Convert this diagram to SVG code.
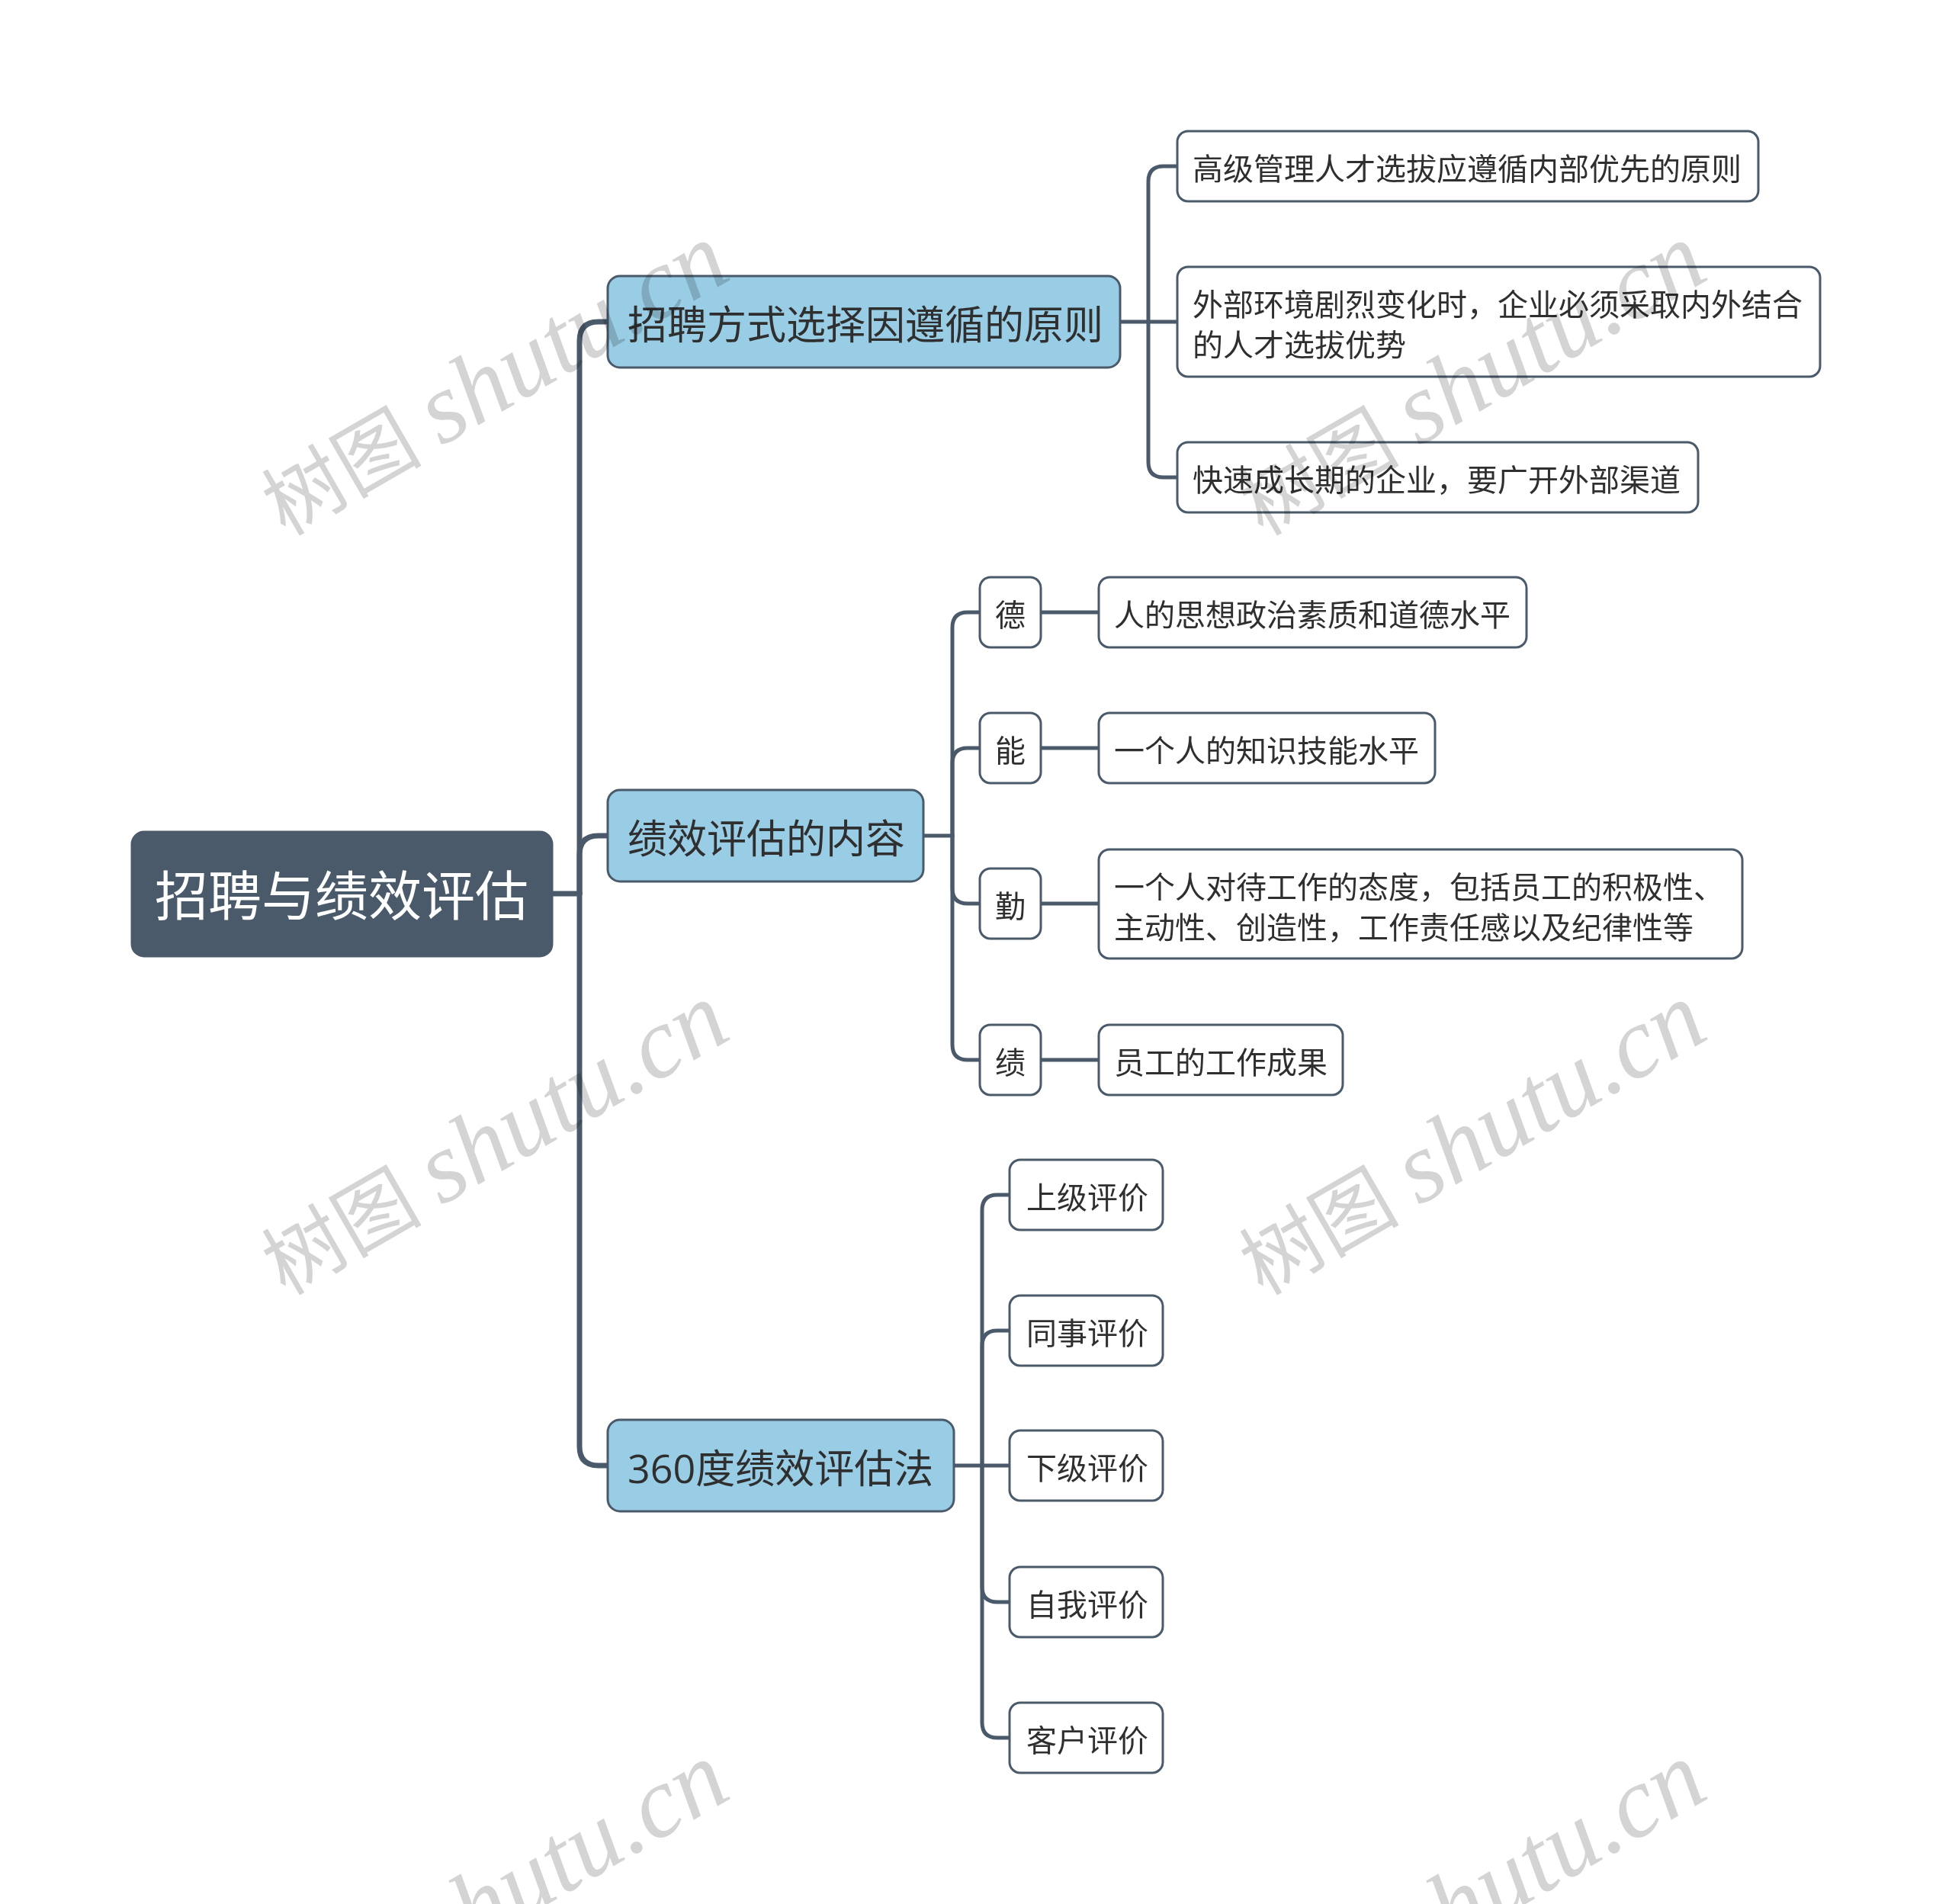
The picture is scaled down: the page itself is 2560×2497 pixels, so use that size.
<svg xmlns="http://www.w3.org/2000/svg" width="2560" height="2497" viewBox="0 0 2560 2497">
<style>
.wm{font-family:"Liberation Serif","Noto Sans CJK SC",serif;font-size:105px;fill:#d4d4d4;mix-blend-mode:multiply;dominant-baseline:alphabetic}
.wm .lat{font-style:italic;font-size:132px}
.conn{fill:none;stroke:#4a5a6a;stroke-linecap:round;stroke-linejoin:round}
.c1{stroke-width:7}
.c2{stroke-width:5}
.root rect{fill:#4a5a6a;stroke:#4a5a6a;stroke-width:3}
.root text{fill:#ffffff;font-size:70px}
.l1 rect{fill:#99cde5;stroke:#4a5a6a;stroke-width:3}
.l1 text{fill:#2f2f2f;font-size:52px}
.l2 rect{fill:#ffffff;stroke:#4a5a6a;stroke-width:3}
.l2 text{fill:#2f2f2f;font-size:40px}
text{font-family:"Open Sans","Noto Sans CJK SC",sans-serif;dominant-baseline:central}
</style>
<rect x="0" y="0" width="2560" height="2497" fill="#ffffff"/>
<g id="connectors">
<path class="conn c1" d="M724,1172 H760"/>
<path class="conn c1" d="M760,1172 V447 Q760,422 785,422 H797"/>
<path class="conn c1" d="M760,1172 V1121 Q760,1096 785,1096 H797"/>
<path class="conn c1" d="M760,1172 V1897 Q760,1922 785,1922 H797"/>
<path class="conn c2" d="M1469,422 H1544"/>
<path class="conn c2" d="M1506,422 V238 Q1506,218 1526,218 H1544"/>
<path class="conn c2" d="M1506,422 V606 Q1506,626 1526,626 H1544"/>
<path class="conn c2" d="M1211,1096 H1249"/>
<path class="conn c2" d="M1249,1096 V823 Q1249,803 1269,803 H1285"/>
<path class="conn c2" d="M1249,1096 V1001 Q1249,981 1269,981 H1285"/>
<path class="conn c2" d="M1249,1096 V1165 Q1249,1185 1269,1185 H1285"/>
<path class="conn c2" d="M1249,1096 V1370 Q1249,1390 1269,1390 H1285"/>
<path class="conn c2" d="M1365,803 H1441"/>
<path class="conn c2" d="M1365,981 H1441"/>
<path class="conn c2" d="M1365,1185 H1441"/>
<path class="conn c2" d="M1365,1390 H1441"/>
<path class="conn c2" d="M1251,1922 H1324"/>
<path class="conn c2" d="M1288,1922 V1587 Q1288,1567 1308,1567 H1324"/>
<path class="conn c2" d="M1288,1922 V1765 Q1288,1745 1308,1745 H1324"/>
<path class="conn c2" d="M1288,1922 V2081 Q1288,2101 1308,2101 H1324"/>
<path class="conn c2" d="M1288,1922 V2259 Q1288,2279 1308,2279 H1324"/>
</g>
<g id="root" class="root"><rect x="173" y="1091" width="551" height="163" rx="16"/><text x="448" y="1174" text-anchor="middle">招聘与绩效评估</text></g>
<g id="n1" class="l1"><rect x="797" y="362" width="672" height="120" rx="16"/><text x="823" y="424">招聘方式选择因遵循的原则</text></g>
<g id="n2" class="l1"><rect x="797" y="1036" width="414" height="120" rx="16"/><text x="823" y="1098">绩效评估的内容</text></g>
<g id="n3" class="l1"><rect x="797" y="1862" width="454" height="120" rx="16"/><text x="823" y="1924">360度绩效评估法</text></g>
<g id="n1c1" class="l2"><rect x="1544" y="172" width="762" height="92" rx="14"/><text x="1564" y="220">高级管理人才选拔应遵循内部优先的原则</text></g>
<g id="n1c2" class="l2"><rect x="1544" y="350" width="843" height="144" rx="14"/><text x="1564" y="398">外部环境剧烈变化时，企业必须采取内外结合</text><text x="1564" y="451">的人才选拔优势</text></g>
<g id="n1c3" class="l2"><rect x="1544" y="580" width="683" height="92" rx="14"/><text x="1564" y="628">快速成长期的企业，要广开外部渠道</text></g>
<g id="de" class="l2"><rect x="1285" y="757" width="80" height="92" rx="14"/><text x="1305" y="805">德</text></g>
<g id="de-c" class="l2"><rect x="1441" y="757" width="561" height="92" rx="14"/><text x="1461" y="805">人的思想政治素质和道德水平</text></g>
<g id="neng" class="l2"><rect x="1285" y="935" width="80" height="92" rx="14"/><text x="1305" y="983">能</text></g>
<g id="neng-c" class="l2"><rect x="1441" y="935" width="441" height="92" rx="14"/><text x="1461" y="983">一个人的知识技能水平</text></g>
<g id="qin" class="l2"><rect x="1285" y="1139" width="80" height="92" rx="14"/><text x="1305" y="1187">勤</text></g>
<g id="qin-c" class="l2"><rect x="1441" y="1114" width="844" height="143" rx="14"/><text x="1461" y="1162">一个人对待工作的态度，包括员工的积极性、</text><text x="1461" y="1215">主动性、创造性，工作责任感以及纪律性等</text></g>
<g id="ji" class="l2"><rect x="1285" y="1344" width="80" height="92" rx="14"/><text x="1305" y="1392">绩</text></g>
<g id="ji-c" class="l2"><rect x="1441" y="1344" width="320" height="92" rx="14"/><text x="1461" y="1392">员工的工作成果</text></g>
<g id="p1" class="l2"><rect x="1324" y="1521" width="201" height="92" rx="14"/><text x="1346" y="1569">上级评价</text></g>
<g id="p2" class="l2"><rect x="1324" y="1699" width="201" height="92" rx="14"/><text x="1346" y="1747">同事评价</text></g>
<g id="p3" class="l2"><rect x="1324" y="1876" width="201" height="92" rx="14"/><text x="1346" y="1924">下级评价</text></g>
<g id="p4" class="l2"><rect x="1324" y="2055" width="201" height="92" rx="14"/><text x="1346" y="2103">自我评价</text></g>
<g id="p5" class="l2"><rect x="1324" y="2233" width="201" height="92" rx="14"/><text x="1346" y="2281">客户评价</text></g>
<g id="watermarks">
<text class="wm" transform="translate(374,704) rotate(-30)">树图 <tspan class="lat">shutu.cn</tspan></text>
<text class="wm" transform="translate(1656,704) rotate(-30)">树图 <tspan class="lat">shutu.cn</tspan></text>
<text class="wm" transform="translate(374,1700) rotate(-30)">树图 <tspan class="lat">shutu.cn</tspan></text>
<text class="wm" transform="translate(1656,1700) rotate(-30)">树图 <tspan class="lat">shutu.cn</tspan></text>
<text class="wm" transform="translate(374,2696) rotate(-30)">树图 <tspan class="lat">shutu.cn</tspan></text>
<text class="wm" transform="translate(1656,2696) rotate(-30)">树图 <tspan class="lat">shutu.cn</tspan></text>
</g>
</svg>
